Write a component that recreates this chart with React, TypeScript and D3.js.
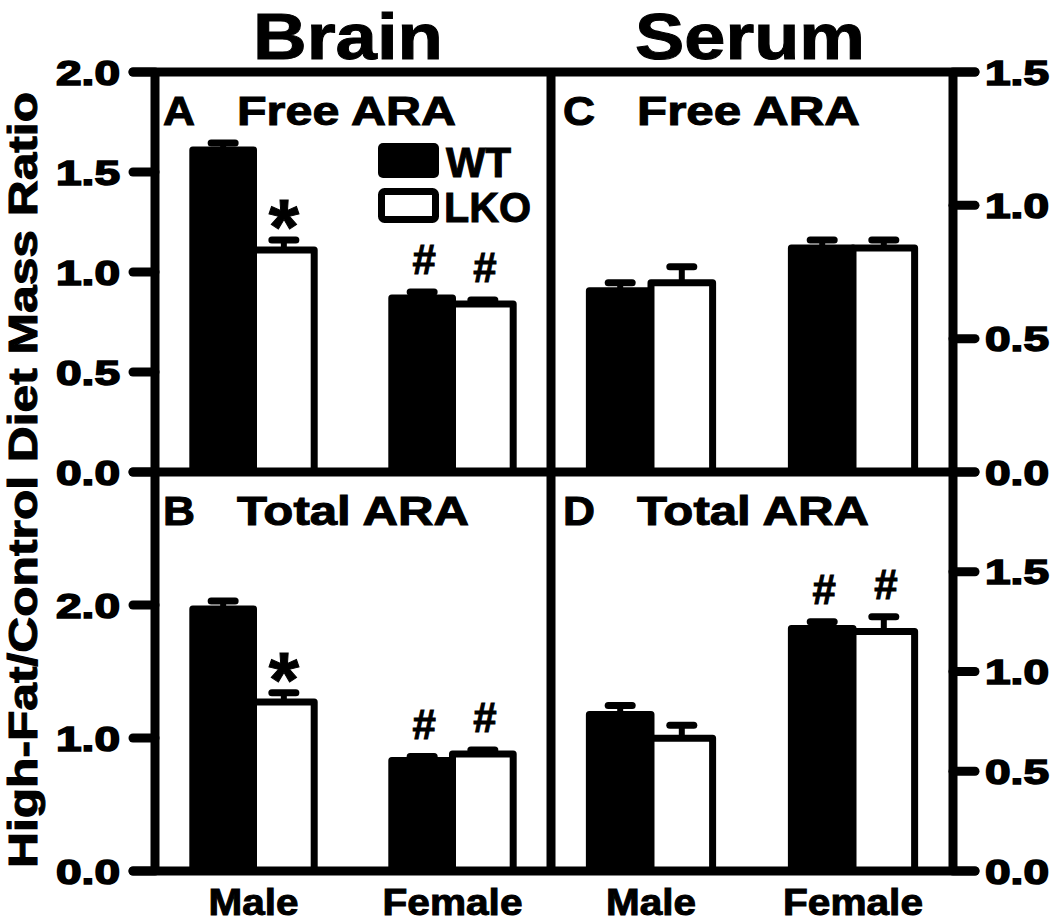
import React from "react";
import { scaleBand, scaleLinear } from "d3";

// categories and series
const sexes = ["Male", "Female"];
const genotypes = ["WT", "LKO"];

// Brain free ARA (panel A)
const brainFreeWT = [1.61, 0.87];
const brainFreeWTErr = [0.035, 0.03];
const brainFreeLKO = [1.11, 0.84];
const brainFreeLKOErr = [0.05, 0.02];
const brainFreeMarks = [["", "*"], ["#", "#"]];

// Brain total ARA (panel B)
const brainTotalWT = [1.97, 0.83];
const brainTotalWTErr = [0.06, 0.03];
const brainTotalLKO = [1.27, 0.88];
const brainTotalLKOErr = [0.07, 0.03];
const brainTotalMarks = [["", "*"], ["#", "#"]];

// Serum free ARA (panel C)
const serumFreeWT = [0.68, 0.84];
const serumFreeWTErr = [0.03, 0.03];
const serumFreeLKO = [0.71, 0.84];
const serumFreeLKOErr = [0.06, 0.03];
const serumFreeMarks = [["", ""], ["", ""]];

// Serum total ARA (panel D)
const serumTotalWT = [0.785, 1.215];
const serumTotalWTErr = [0.045, 0.035];
const serumTotalLKO = [0.665, 1.2];
const serumTotalLKOErr = [0.065, 0.075];
const serumTotalMarks = [["", ""], ["#", "#"]];

// tick labels
const brainFreeTicks = ["0.0", "0.5", "1.0", "1.5", "2.0"];
const brainTotalTicks = ["0.0", "1.0", "2.0"];
const serumFreeTicks = ["0.0", "0.5", "1.0", "1.5"];
const serumTotalTicks = ["0.0", "0.5", "1.0", "1.5"];

const font = "'Liberation Sans', Arial, sans-serif";
// heavy text look of the original
const heavy = { fontWeight: "bold", fontFamily: font, stroke: "#000", strokeWidth: 1 };

const L = 155;
const M = 551;
const R = 953;
const TOP = 72;
const MID = 472;
const BOT = 871;

const panels = [
  { letter: "A", label: "Free ARA", x0: L, x1: M, y0: MID, y1: TOP, max: 2, side: "left",
    wt: brainFreeWT, wtErr: brainFreeWTErr, lko: brainFreeLKO, lkoErr: brainFreeLKOErr,
    marks: brainFreeMarks, ticks: brainFreeTicks, labelW: 219 },
  { letter: "B", label: "Total ARA", x0: L, x1: M, y0: BOT, y1: MID, max: 3, side: "left",
    wt: brainTotalWT, wtErr: brainTotalWTErr, lko: brainTotalLKO, lkoErr: brainTotalLKOErr,
    marks: brainTotalMarks, ticks: brainTotalTicks, labelW: 232 },
  { letter: "C", label: "Free ARA", x0: M, x1: R, y0: MID, y1: TOP, max: 1.5, side: "right",
    wt: serumFreeWT, wtErr: serumFreeWTErr, lko: serumFreeLKO, lkoErr: serumFreeLKOErr,
    marks: serumFreeMarks, ticks: serumFreeTicks, labelW: 223 },
  { letter: "D", label: "Total ARA", x0: M, x1: R, y0: BOT, y1: MID, max: 2, side: "right",
    wt: serumTotalWT, wtErr: serumTotalWTErr, lko: serumTotalLKO, lkoErr: serumTotalLKOErr,
    marks: serumTotalMarks, ticks: serumTotalTicks, labelW: 232 },
];

const Panel = ({ p }) => {
  const x = scaleBand().domain(sexes).range([p.x0, p.x1]).paddingInner(0.39).paddingOuter(0.19);
  const xs = scaleBand().domain(genotypes).range([0, x.bandwidth()]);
  const y = scaleLinear().domain([0, p.max]).range([p.y0, p.y1]);
  const series = [
    { key: "WT", vals: p.wt, errs: p.wtErr, fill: "#000" },
    { key: "LKO", vals: p.lko, errs: p.lkoErr, fill: "#fff" },
  ];
  const labelY = p.y1 + 53;
  return (
    <g>
      {series.map((s, si) =>
        sexes.map((sex, i) => {
          const bx = x(sex) + xs(s.key);
          const cx = bx + xs.bandwidth() / 2;
          const yv = y(s.vals[i]);
          const ye = y(s.vals[i] + s.errs[i]);
          const mark = p.marks[i][si];
          return (
            <g key={s.key + sex}>
              <line x1={cx} x2={cx} y1={yv} y2={ye} stroke="#000" strokeWidth={6} />
              <line x1={cx - 12} x2={cx + 12} y1={ye} y2={ye} stroke="#000" strokeWidth={7} strokeLinecap="round" />
              <rect x={bx} y={yv} width={xs.bandwidth()} height={p.y0 - yv}
                fill={s.fill} stroke="#000" strokeWidth={7} strokeLinejoin="round" />
              {mark === "#" && (
                <text x={cx + 2} y={ye - 18} textAnchor="middle" fontSize={42} {...heavy}>#</text>
              )}
              {mark === "*" && (
                <text x={cx} y={ye - 18 + 32} textAnchor="middle" fontSize={78} {...heavy}>*</text>
              )}
            </g>
          );
        })
      )}
      <text x={p.x0 + (p.side === "left" ? 8 : 12)} y={labelY} fontSize={40} {...heavy}
        textLength={32} lengthAdjust="spacingAndGlyphs">{p.letter}</text>
      <text x={p.x0 + (p.side === "left" ? 82 : 86)} y={labelY} fontSize={40} {...heavy}
        textLength={p.labelW} lengthAdjust="spacingAndGlyphs">{p.label}</text>
      {p.ticks.map((t) => {
        const ty = y(+t);
        const left = p.side === "left";
        const ax = left ? p.x0 : p.x1;
        return (
          <g key={t}>
            <line x1={ax} x2={left ? ax - 22 : ax + 22} y1={ty} y2={ty} stroke="#000" strokeWidth={9} strokeLinecap="round" />
            <text x={left ? 120 : 985} y={ty + 12.5} textAnchor={left ? "end" : "start"} fontSize={35}
              {...heavy} strokeWidth={1.6} textLength={64} lengthAdjust="spacingAndGlyphs">{t}</text>
          </g>
        );
      })}
    </g>
  );
};

export default function App() {
  const xBrain = scaleBand().domain(sexes).range([L, M]).paddingInner(0.39).paddingOuter(0.19);
  const xSerum = scaleBand().domain(sexes).range([M, R]).paddingInner(0.39).paddingOuter(0.19);
  const catW = { Male: 90, Female: 140 };
  return (
    <svg width={1050} height={923} style={{ position: "absolute", left: 0, top: 0, background: "#fff" }}>
      <rect width={1050} height={923} fill="#fff" />
      {panels.map((p) => <Panel key={p.letter} p={p} />)}
      {/* frame */}
      {[L, M, R].map((vx) => (
        <line key={vx} x1={vx} x2={vx} y1={TOP} y2={BOT} stroke="#000" strokeWidth={9} />
      ))}
      {[TOP, MID, BOT].map((hy) => (
        <line key={hy} x1={L - 22} x2={R + 22} y1={hy} y2={hy} stroke="#000" strokeWidth={9} strokeLinecap="round" />
      ))}
      {/* legend */}
      <rect x={378} y={143} width={61} height={35} rx={5} fill="#000" />
      <rect x={381.5} y={191.5} width={54} height={28} rx={3} fill="#fff" stroke="#000" strokeWidth={7} />
      <text x={446} y={177} fontSize={42} {...heavy} textLength={65} lengthAdjust="spacingAndGlyphs">{genotypes[0]}</text>
      <text x={444} y={222} fontSize={42} {...heavy} textLength={87} lengthAdjust="spacingAndGlyphs">{genotypes[1]}</text>
      {/* titles */}
      <text x={348} y={59} textAnchor="middle" fontSize={64} {...heavy} textLength={190} lengthAdjust="spacingAndGlyphs">Brain</text>
      <text x={750} y={59} textAnchor="middle" fontSize={64} {...heavy} textLength={230} lengthAdjust="spacingAndGlyphs">Serum</text>
      <text transform="translate(37,480) rotate(-90)" textAnchor="middle" fontSize={40} {...heavy}
        textLength={776} lengthAdjust="spacingAndGlyphs">High-Fat/Control Diet Mass Ratio</text>
      {/* category labels */}
      {[xBrain, xSerum].map((xs, k) =>
        sexes.map((s) => (
          <text key={k + s} x={xs(s) + xs.bandwidth() / 2} y={915} textAnchor="middle" fontSize={37}
            {...heavy} textLength={catW[s]} lengthAdjust="spacingAndGlyphs">{s}</text>
        ))
      )}
    </svg>
  );
}
